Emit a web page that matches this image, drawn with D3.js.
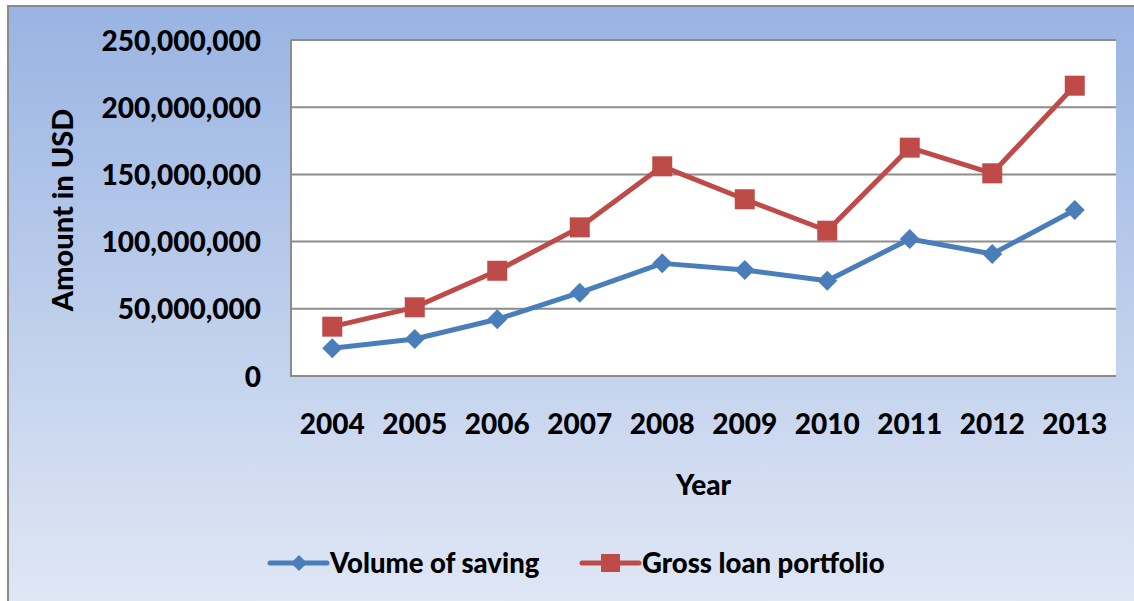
<!DOCTYPE html>
<html><head><meta charset="utf-8">
<script src="https://cdn.jsdelivr.net/npm/d3@7"></script>
<style>body{margin:0;background:#fff}svg{display:block}</style>
</head><body>
<svg id="c" width="1134" height="601"></svg>
<script>
const years = ["2004","2005","2006","2007","2008","2009","2010","2011","2012","2013"];
const saving = [20600000,27500000,42200000,62000000,83800000,78900000,70900000,101900000,90800000,123500000];
const loans = [36700000,51100000,78300000,110600000,156000000,131500000,108100000,169900000,150800000,216000000];
const yTicks = [0,50000000,100000000,150000000,200000000,250000000];
const seriesNames = ["Volume of saving","Gross loan portfolio"];
const colors = ["#4A7EBB","#BE4B48"];

const svg = d3.select("#c");
const font = "Lato, 'Open Sans', sans-serif";
const W = 900;
const defs = svg.append("defs");
const g = defs.append("linearGradient").attr("id","bg").attr("x1",0).attr("y1",0).attr("x2",0).attr("y2",1);
g.append("stop").attr("offset","0%").attr("stop-color","#99B4E2");
g.append("stop").attr("offset","100%").attr("stop-color","#E1E8F5");
svg.append("rect").attr("x",8).attr("y",6).attr("width",1140).attr("height",610)
  .attr("fill","url(#bg)").attr("stroke","#8a8a8a").attr("stroke-width",2);

const L=291,R=1116,T=40,B=376;
const x = d3.scaleBand().domain(years).range([L,R]);
const y = d3.scaleLinear().domain([0,250000000]).range([B,T]);
svg.append("rect").attr("x",L).attr("y",T).attr("width",R-L).attr("height",B-T).attr("fill","#fff");

svg.append("g").selectAll("line").data(yTicks.filter(d=>d>0)).join("line")
  .attr("x1",L).attr("x2",R).attr("y1",d=>y(d)).attr("y2",d=>y(d))
  .attr("stroke","#8c8c8c").attr("stroke-width",2);
svg.append("path").attr("d",`M${L},${T}V${B}H${R}`).attr("fill","none").attr("stroke","#8c8c8c").attr("stroke-width",2);

const fmt = d3.format(",");
const yAxis = d3.axisLeft(y).tickValues(yTicks).tickFormat(d=>fmt(d)).tickSize(0).tickPadding(30);
const ya = svg.append("g").attr("transform",`translate(${L},0)`).call(yAxis);
ya.select(".domain").remove();
ya.selectAll("text").attr("font-family",font).attr("font-weight",W).attr("font-size",28).attr("fill","#000").attr("dy","0.36em");

const xAxis = d3.axisBottom(x).tickSize(0).tickPadding(38);
const xa = svg.append("g").attr("transform",`translate(0,${B})`).call(xAxis);
xa.select(".domain").remove();
xa.selectAll("text").attr("font-family",font).attr("font-weight",W).attr("font-size",28).attr("fill","#000");

svg.append("text").attr("transform",`translate(73,${(T+B)/2+2}) rotate(-90)`).attr("text-anchor","middle")
  .attr("font-family",font).attr("font-weight",W).attr("font-size",29).text("Amount in USD");
svg.append("text").attr("x",(L+R)/2).attr("y",495).attr("text-anchor","middle")
  .attr("font-family",font).attr("font-weight",W).attr("font-size",28).text("Year");

const cx = d=>x(d)+x.bandwidth()/2;
const line = d3.line().x((d,i)=>cx(years[i])).y(d=>y(d));
[saving,loans].forEach((s,k)=>{
  svg.append("path").datum(s).attr("d",line).attr("fill","none").attr("stroke",colors[k]).attr("stroke-width",5).attr("stroke-linejoin","round");
});
svg.append("g").selectAll("path").data(saving).join("path")
  .attr("d",d3.symbol().type(d3.symbolSquare).size(200)).attr("transform",(d,i)=>`translate(${cx(years[i])},${y(d)}) rotate(45)`).attr("fill",colors[0]);
svg.append("g").selectAll("rect").data(loans).join("rect")
  .attr("x",(d,i)=>cx(years[i])-10).attr("y",d=>y(d)-10).attr("width",20).attr("height",20).attr("fill",colors[1]);

const lg = [{x0:270,name:seriesNames[0],c:colors[0],m:"d"},{x0:582,name:seriesNames[1],c:colors[1],m:"s"}];
lg.forEach(o=>{
  const ly=563;
  svg.append("line").attr("x1",o.x0).attr("x2",o.x0+57).attr("y1",ly).attr("y2",ly).attr("stroke",o.c).attr("stroke-width",5).attr("stroke-linecap","round");
  if(o.m==="d") svg.append("path").attr("d",d3.symbol().type(d3.symbolSquare).size(130)()).attr("transform",`translate(${o.x0+29},${ly}) rotate(45)`).attr("fill",o.c);
  else svg.append("rect").attr("x",o.x0+19).attr("y",ly-9).attr("width",19).attr("height",18).attr("fill",o.c);
  svg.append("text").attr("x",o.x0+60).attr("y",ly).attr("dy","0.35em").attr("font-family",font).attr("font-weight",W).attr("font-size",27.5).text(o.name);
});
</script>
</body></html>
